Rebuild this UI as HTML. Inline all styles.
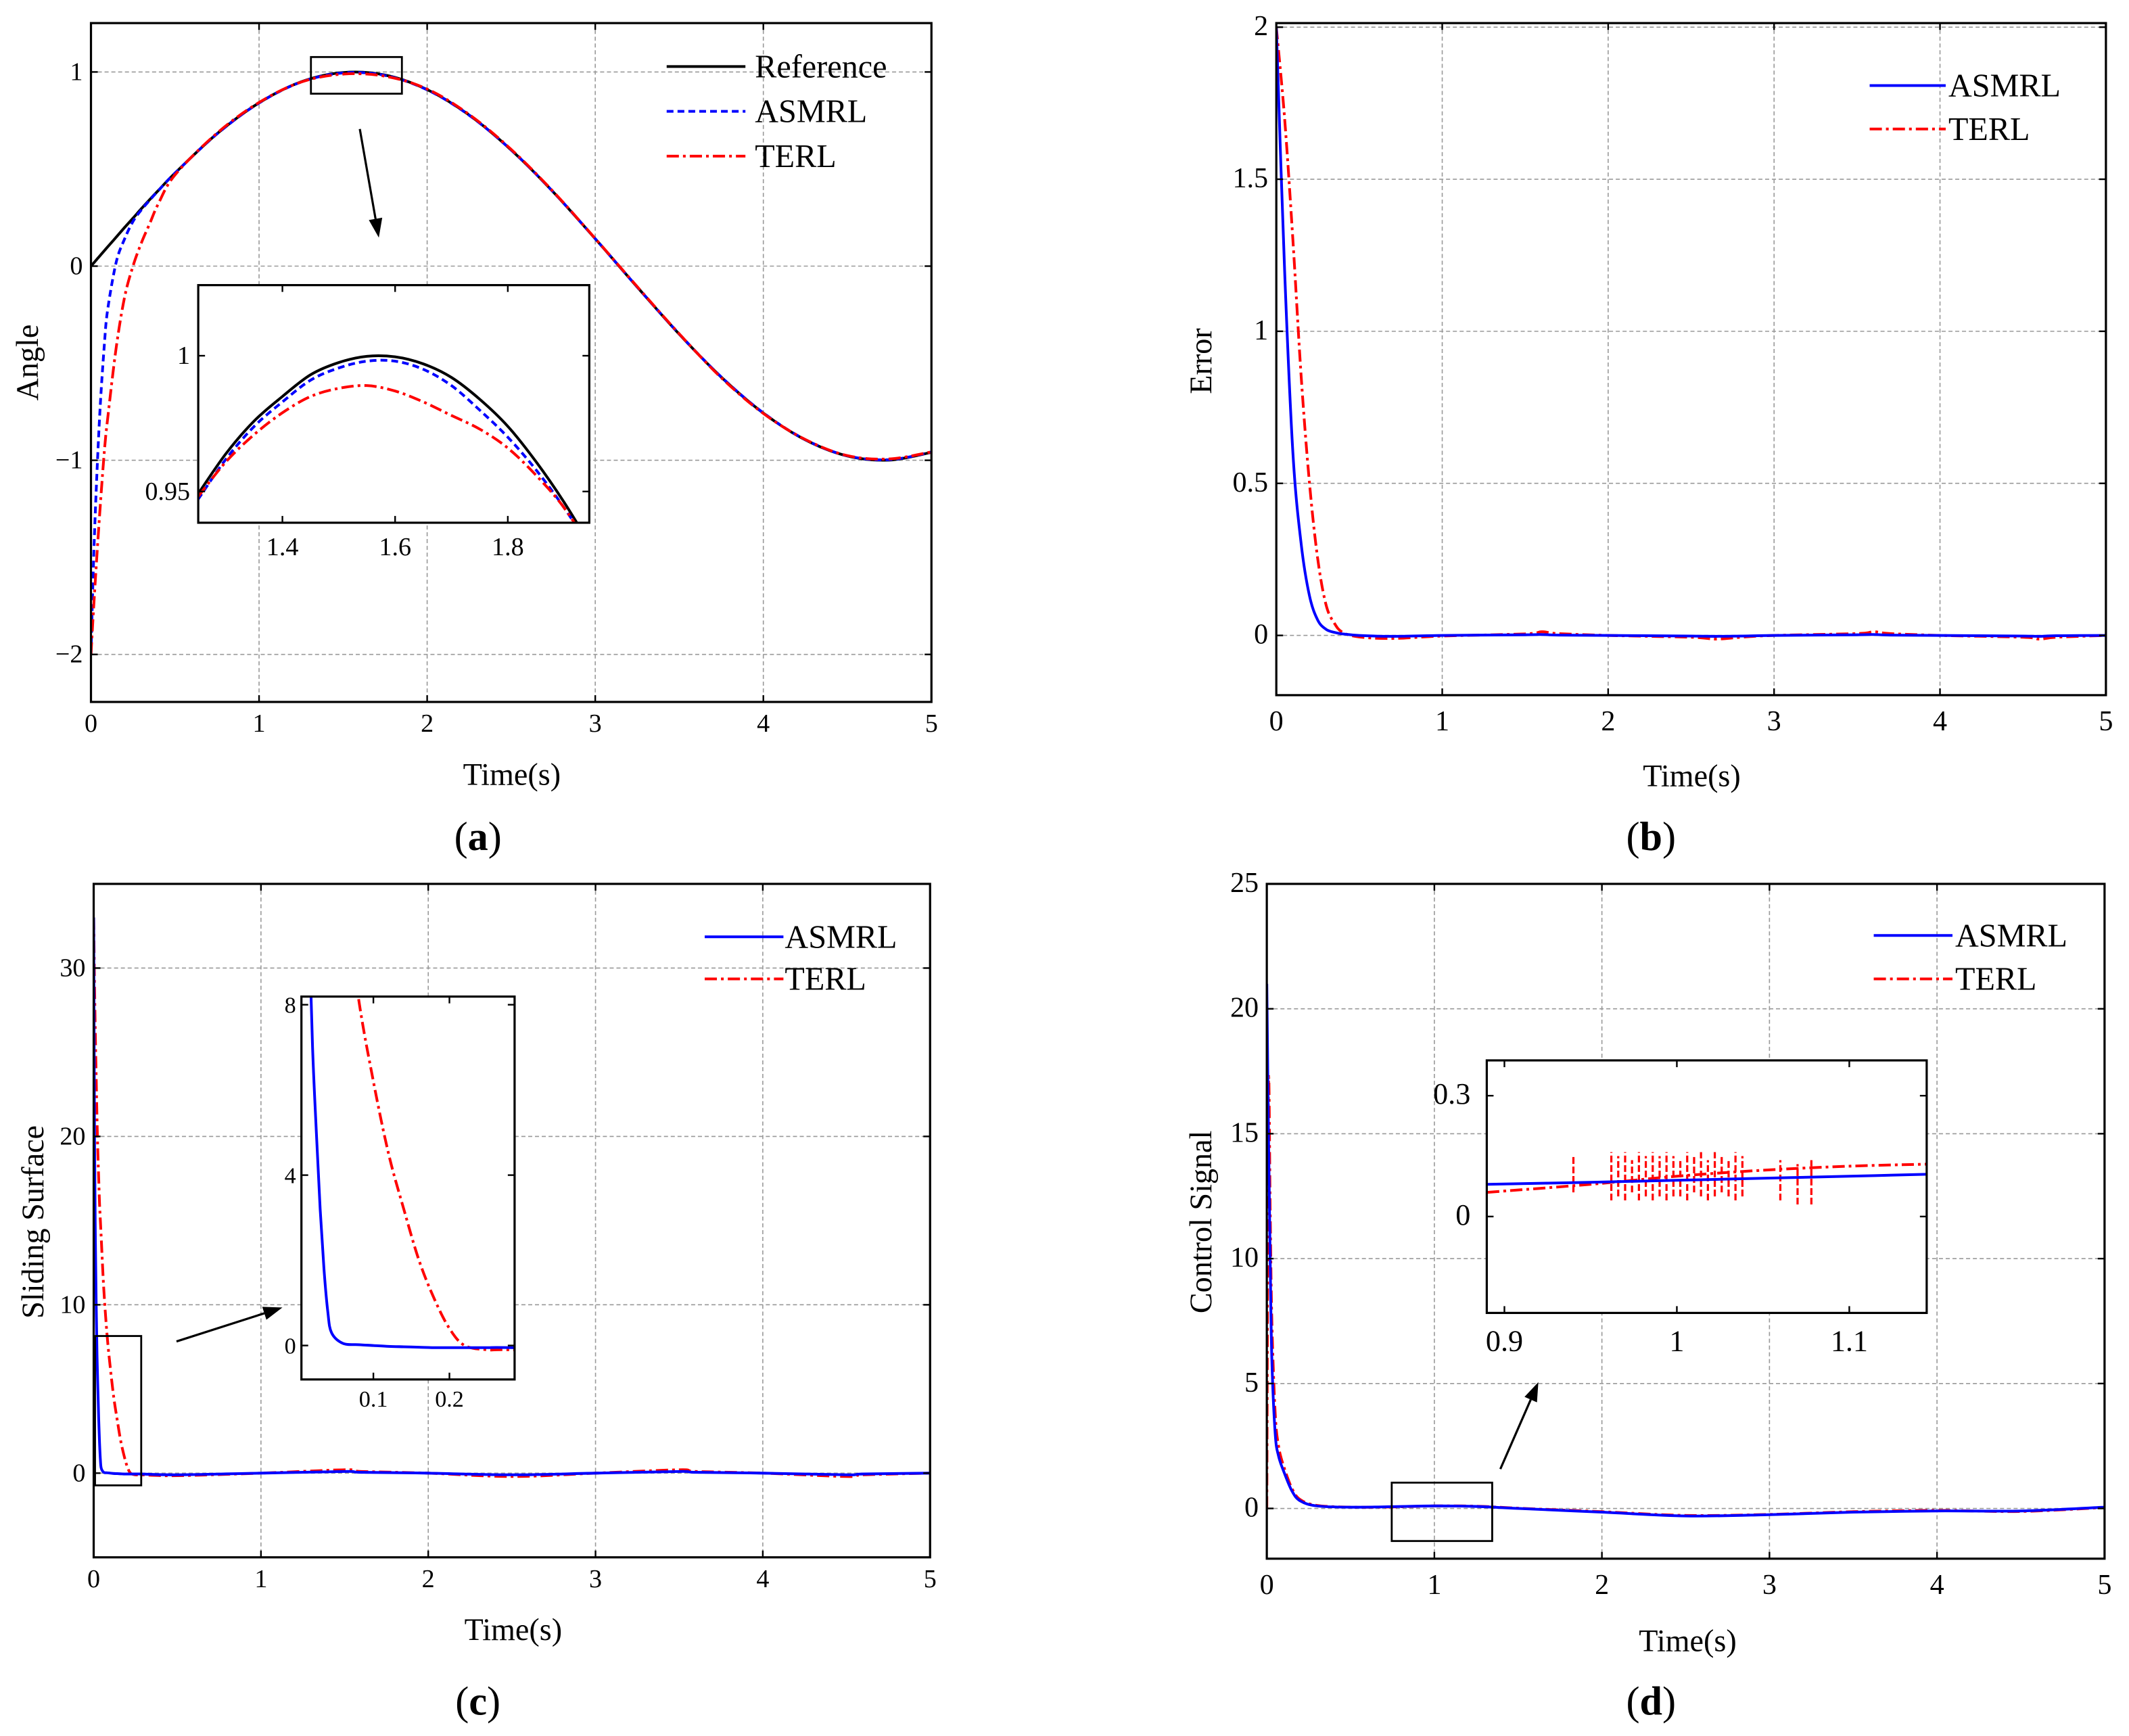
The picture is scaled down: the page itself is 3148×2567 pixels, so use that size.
<!DOCTYPE html>
<html><head><meta charset="utf-8">
<style>
html,body{margin:0;padding:0;background:#fff;}
svg{display:block;}
text{font-family:"Liberation Serif","Times New Roman",serif;fill:#000;}
</style></head>
<body>
<svg id="fig" width="3148" height="2567" viewBox="0 0 1568 1278.6" font-family="Liberation Serif, serif" xmlns="http://www.w3.org/2000/svg"></svg>
<script>
// ---------- DATA ----------
const tA = [0,0.02,0.05,0.08,0.1,0.15,0.2,0.25,0.3,0.35,0.4,0.5,0.75,1,1.25,1.5,1.75,2,2.25,2.5,2.75,3,3.25,3.5,3.75,4,4.25,4.5,4.75,5];
const refA = [0,0.02,0.05,0.08,0.1,0.149,0.199,0.247,0.296,0.343,0.389,0.479,0.682,0.841,0.949,0.997,0.984,0.909,0.778,0.598,0.382,0.141,-0.108,-0.351,-0.572,-0.757,-0.895,-0.978,-0.999,-0.959];
const asmrlA = [-2,-1.4,-0.8,-0.4,-0.22,0.02,0.14,0.23,0.29,0.34,0.388,0.479,0.681,0.84,0.948,0.995,0.982,0.908,0.777,0.598,0.382,0.141,-0.108,-0.35,-0.571,-0.756,-0.894,-0.977,-0.997,-0.958];
const terlA = [-2,-1.7,-1.3,-0.95,-0.78,-0.42,-0.16,0.0,0.12,0.22,0.32,0.47,0.685,0.843,0.948,0.989,0.978,0.912,0.781,0.601,0.384,0.142,-0.106,-0.349,-0.575,-0.759,-0.893,-0.976,-0.993,-0.957];
const tInsetA = [1.25,1.3,1.35,1.4,1.45,1.5,1.55,1.6,1.65,1.7,1.75,1.8,1.85,1.9,1.95];
const refInsetA = [0.949,0.964,0.976,0.985,0.993,0.9975,0.9998,0.9996,0.997,0.992,0.984,0.974,0.961,0.946,0.929];
const asmrlInsetA = [0.947,0.962,0.974,0.983,0.991,0.9955,0.998,0.998,0.995,0.989,0.980,0.970,0.958,0.944,0.928];
const terlInsetA = [0.948,0.961,0.971,0.979,0.985,0.988,0.989,0.987,0.983,0.978,0.973,0.966,0.956,0.944,0.928];

const tB = [0,0.05,0.1,0.15,0.2,0.25,0.3,0.35,0.4,0.5,0.7,1,1.5,1.6,1.7,2,2.5,2.65,2.8,3,3.5,3.6,3.7,4,4.5,4.6,4.7,5];
const asmrlB = [2,1.2,0.6,0.3,0.13,0.05,0.02,0.01,0.005,0,-0.003,0,0.002,0.003,0.001,0,-0.002,-0.003,-0.002,0,0.002,0.003,0.001,0,-0.002,-0.003,-0.001,0];
const terlB = [2,1.7,1.3,0.85,0.5,0.25,0.1,0.04,0.01,-0.005,-0.01,-0.002,0.005,0.012,0.006,0,-0.006,-0.012,-0.006,0,0.006,0.012,0.006,0,-0.006,-0.012,-0.006,0];

const tC = [0,0.005,0.01,0.015,0.02,0.025,0.03,0.035,0.04,0.045,0.06,0.08,0.1,0.12,0.14,0.16,0.18,0.2,0.22,0.25,0.28,0.5,1,1.5,1.6,2,2.5,3,3.5,3.6,4,4.5,4.6,5];
const asmrlC = [33,20,14,10,7,5,3.2,1.8,0.8,0.3,0.05,0.02,0,-0.02,-0.03,-0.04,-0.05,-0.05,-0.05,-0.05,-0.05,-0.1,0,0.1,0.05,0,-0.1,0,0.1,0.05,0,-0.1,-0.05,0];
const terlC = [33,29,26,23.5,21,19,17.5,16,15,14,11,8.2,6.2,4.5,3.2,2.0,1.1,0.4,0.0,-0.1,-0.1,-0.15,0,0.2,0.1,0,-0.2,0,0.2,0.1,0,-0.2,-0.1,0];

const tD = [0,0.01,0.02,0.03,0.05,0.07,0.1,0.15,0.2,0.3,0.5,0.75,1,1.25,1.5,2,2.5,3,3.5,4,4.5,5];
const asmrlD = [21,15,10,6,3,2.1,1.5,0.7,0.3,0.1,0.05,0.07,0.1,0.08,0,-0.15,-0.3,-0.25,-0.15,-0.1,-0.1,0.05];
const terlD = [0,17,12,7.5,3.8,2.5,1.7,0.8,0.35,0.12,0.05,0.06,0.1,0.09,0.01,-0.13,-0.28,-0.24,-0.13,-0.08,-0.12,0.04];
const tInsetD = [0.89,0.95,1.0,1.05,1.1,1.145];
const asmrlInsetD = [0.08,0.085,0.09,0.095,0.1,0.105];
const terlInsetD = [0.06,0.08,0.1,0.115,0.125,0.13];
const spikeTimesD = [0.94,0.962,0.966,0.97,0.974,0.978,0.982,0.986,0.99,0.994,0.998,1.002,1.006,1.01,1.014,1.018,1.022,1.026,1.03,1.034,1.038,1.06,1.07,1.078];
const spikeLowD = [0.06,0.04,0.05,0.04,0.06,0.04,0.05,0.04,0.05,0.04,0.05,0.05,0.04,0.06,0.05,0.04,0.05,0.06,0.05,0.04,0.05,0.04,0.03,0.03];
const spikeHighD = [0.15,0.16,0.15,0.16,0.14,0.16,0.15,0.16,0.15,0.16,0.15,0.14,0.16,0.15,0.16,0.14,0.16,0.15,0.14,0.16,0.15,0.14,0.13,0.14];

// ---------- HELPERS ----------
const NS = "http://www.w3.org/2000/svg";
const svg = document.getElementById('fig');
function mk(tag, attrs, parent){
  const e = document.createElementNS(NS, tag);
  for (const k in attrs) e.setAttribute(k, attrs[k]);
  (parent||svg).appendChild(e);
  return e;
}
function txt(s, x, y, size, anchor, parent, extra){
  const e = mk('text', Object.assign({x:x, y:y, 'font-size':size, 'text-anchor':anchor||'middle', 'font-family':'Liberation Serif, serif'}, extra||{}), parent);
  e.textContent = s;
  return e;
}
function scale(d0, d1, p0, p1){ return v => p0 + (v - d0) * (p1 - p0) / (d1 - d0); }
function pathD(xs, ys, sx, sy){
  const P = xs.map((t,i)=>[sx(t), sy(ys[i])]);
  let d = 'M'+P[0][0].toFixed(2)+','+P[0][1].toFixed(2);
  for (let i=0;i<P.length-1;i++){
    const p0=P[Math.max(0,i-1)], p1=P[i], p2=P[i+1], p3=P[Math.min(P.length-1,i+2)];
    // monotone-ish catmull-rom with tension
    const k = 1/6;
    let c1x=p1[0]+(p2[0]-p0[0])*k, c1y=p1[1]+(p2[1]-p0[1])*k;
    let c2x=p2[0]-(p3[0]-p1[0])*k, c2y=p2[1]-(p3[1]-p1[1])*k;
    const lo=Math.min(p1[1],p2[1]), hi=Math.max(p1[1],p2[1]);
    const slack = (hi-lo)*0.3+1;
    c1y=Math.min(Math.max(c1y,lo-slack),hi+slack); c2y=Math.min(Math.max(c2y,lo-slack),hi+slack);
    c1x=Math.min(Math.max(c1x,p1[0]),p2[0]); c2x=Math.min(Math.max(c2x,p1[0]),p2[0]);
    d += ` C${c1x.toFixed(2)},${c1y.toFixed(2)} ${c2x.toFixed(2)},${c2y.toFixed(2)} ${p2[0].toFixed(2)},${p2[1].toFixed(2)}`;
  }
  return d;
}
const STY = {
  ref:{stroke:'#000','stroke-width':2,fill:'none'},
  asmrlDot:{stroke:'#0000ff','stroke-width':2,fill:'none','stroke-dasharray':'5 3'},
  asmrl:{stroke:'#0000ff','stroke-width':2,fill:'none'},
  terl:{stroke:'#ff0000','stroke-width':2,fill:'none','stroke-dasharray':'9 3 2 3'}
};
let clipN = 0;
function clipRect(x,y,w,h){
  const id = 'clip'+(clipN++);
  const cp = mk('clipPath',{id:id});
  mk('rect',{x:x,y:y,width:w,height:h},cp);
  return 'url(#'+id+')';
}
function axesBox(g, x0, y0, x1, y1){
  mk('rect',{x:x0,y:y0,width:x1-x0,height:y1-y0,fill:'none',stroke:'#000','stroke-width':1.6},g);
}
function grid(g, xs, ys, sx, sy, x0,y0,x1,y1){
  xs.forEach(v=>{ const l = mk('line',{x1:sx(v),x2:sx(v),y1:y0,y2:y1,stroke:'#999','stroke-width':0.8,'stroke-dasharray':'3 2'},g);
      });
  ys.forEach(v=>{ const l = mk('line',{x1:x0,x2:x1,y1:sy(v),y2:sy(v),stroke:'#999','stroke-width':0.8,'stroke-dasharray':'3 2'},g);
      });
}
function ticks(g, xs, ys, sx, sy, x0,y0,x1,y1, xlab, ylab, fs, xoff, yoff){
  xs.forEach((v,i)=>{
    mk('line',{x1:sx(v),x2:sx(v),y1:y1,y2:y1-5,stroke:'#000','stroke-width':1.2},g);
    mk('line',{x1:sx(v),x2:sx(v),y1:y0,y2:y0+5,stroke:'#000','stroke-width':1.2},g);
    const t = txt(xlab[i], sx(v), y1+xoff, fs, 'middle', g);
     
  });
  ys.forEach((v,i)=>{
    mk('line',{x1:x0,x2:x0+5,y1:sy(v),y2:sy(v),stroke:'#000','stroke-width':1.2},g);
    mk('line',{x1:x1,x2:x1-5,y1:sy(v),y2:sy(v),stroke:'#000','stroke-width':1.2},g);
    const t = txt(ylab[i], x0-yoff, sy(v)+6, fs, 'end', g);
     
  });
}
function series(g, xs, ys, sx, sy, sty, name, clip){
  const p = mk('path', Object.assign({d:pathD(xs,ys,sx,sy)}, sty), g);
  if (clip) p.setAttribute('clip-path', clip);
  
  
  return p;
}
function legendEntry(g, x0, x1, y, sty, label, tx, fs){
  const e = mk('g',{},g);
  
  
  mk('line',Object.assign({x1:x0,x2:x1,y1:y,y2:y},sty),e);
  txt(label, tx, y+8, fs, 'start', e);
}
function arrow(g, xa, ya, xb, yb){
  const a = mk('g',{},g);
   
  const ang = Math.atan2(yb-ya, xb-xa), L=14, W=5;
  const bx = xb - L*Math.cos(ang), by = yb - L*Math.sin(ang);
  mk('line',{x1:xa,y1:ya,x2:bx,y2:by,stroke:'#000','stroke-width':1.6},a);
  const px = -Math.sin(ang)*W, py = Math.cos(ang)*W;
  mk('polygon',{points:`${xb},${yb} ${bx+px},${by+py} ${bx-px},${by-py}`,fill:'#000'},a);
}
function panelLabel(g, letter, x, y){
  const t = mk('text',{x:x,y:y,'font-size':30,'text-anchor':'middle','font-family':'Liberation Serif, serif'},g);
   
  t.appendChild(document.createTextNode('('));
  const b = mk('tspan',{'font-weight':'bold'},t); b.textContent = letter;
  t.appendChild(document.createTextNode(')'));
}
function axisTitles(g, xt, xx, xy, yt, yx, yy, fs){
  const a = txt(xt, xx, xy, fs, 'middle', g);
   
  const b = txt(yt, yx, yy, fs, 'middle', g, {transform:`rotate(-90 ${yx} ${yy})`});
   
}
const xTicks5 = [0,1,2,3,4,5], xLab5 = ['0','1','2','3','4','5'];

// ---------- PANEL A ----------
(function(){
  const g = mk('g',{});  
  const x0=67,x1=686,y0=17,y1=517;
  const sx = scale(0,5,x0,x1), sy = scale(1,0,53,196);
  const yT=[1,0,-1,-2], yL=['1','0','\u22121','\u22122'];
  grid(g, xTicks5, yT, sx, sy, x0,y0,x1,y1);
  const cl = clipRect(x0,y0,x1-x0,y1-y0);
  series(g,tA,refA,sx,sy,STY.ref,'reference-line',cl);
  series(g,tA,asmrlA,sx,sy,STY.asmrlDot,'asmrl-line',cl);
  series(g,tA,terlA,sx,sy,STY.terl,'terl-line',cl);
  axesBox(g,x0,y0,x1,y1);
  ticks(g,xTicks5,yT,sx,sy,x0,y0,x1,y1,xLab5,yL,19,22,6);
  axisTitles(g,'Time(s)',377,578,'Angle',28,267,23);
  legendEntry(g,491,549,49,STY.ref,'Reference',556,24);
  legendEntry(g,491,549,82,STY.asmrlDot,'ASMRL',556,24);
  legendEntry(g,491,549,115,STY.terl,'TERL',556,24);
  const zb = mk('rect',{x:229,y:42,width:67,height:27,fill:'none',stroke:'#000','stroke-width':1.4},g);
   
  arrow(g,265,95,279,175);
  const ig = mk('g',{},g);  
  const ix0=146,ix1=434,iy0=210,iy1=385;
  mk('rect',{x:ix0,y:iy0,width:ix1-ix0,height:iy1-iy0,fill:'#fff'},ig);
  const isx = scale(1.4,1.8,208,374), isy = scale(1,0.95,262,362);
  const icl = clipRect(ix0,iy0,ix1-ix0,iy1-iy0);
  series(ig,tInsetA,refInsetA,isx,isy,STY.ref,'inset-reference-line',icl);
  series(ig,tInsetA,asmrlInsetA,isx,isy,STY.asmrlDot,'inset-asmrl-line',icl);
  series(ig,tInsetA,terlInsetA,isx,isy,STY.terl,'inset-terl-line',icl);
  axesBox(ig,ix0,iy0,ix1,iy1);
  ticks(ig,[1.4,1.6,1.8],[1,0.95],isx,isy,ix0,iy0,ix1,iy1,['1.4','1.6','1.8'],['1','0.95'],19,24,6);
  panelLabel(g,'a',352,626);
})();

// ---------- PANEL B ----------
(function(){
  const g = mk('g',{});  
  const x0=940,x1=1551,y0=17,y1=512;
  const sx = scale(0,5,x0,x1), sy = scale(0,2,468,20);
  const yT=[0,0.5,1,1.5,2], yL=['0','0.5','1','1.5','2'];
  grid(g, xTicks5, yT, sx, sy, x0,y0,x1,y1);
  const cl = clipRect(x0,y0,x1-x0,y1-y0);
  series(g,tB,terlB,sx,sy,STY.terl,'terl-line',cl);
  series(g,tB,asmrlB,sx,sy,STY.asmrl,'asmrl-line',cl);
  axesBox(g,x0,y0,x1,y1);
  ticks(g,xTicks5,yT,sx,sy,x0,y0,x1,y1,xLab5,yL,21,26,6);
  axisTitles(g,'Time(s)',1246,579,'Error',892,266,23);
  legendEntry(g,1377,1433,63,STY.asmrl,'ASMRL',1435,24);
  legendEntry(g,1377,1433,95,STY.terl,'TERL',1435,24);
  panelLabel(g,'b',1216,626);
})();

// ---------- PANEL C ----------
(function(){
  const g = mk('g',{});  
  const x0=69,x1=685,y0=651,y1=1147;
  const sx = scale(0,5,x0,x1), sy = scale(0,30,1085,713);
  const yT=[0,10,20,30], yL=['0','10','20','30'];
  grid(g, xTicks5, yT, sx, sy, x0,y0,x1,y1);
  const cl = clipRect(x0,y0,x1-x0,y1-y0);
  series(g,tC,terlC,sx,sy,STY.terl,'terl-line',cl);
  series(g,tC,asmrlC,sx,sy,STY.asmrl,'asmrl-line',cl);
  axesBox(g,x0,y0,x1,y1);
  ticks(g,xTicks5,yT,sx,sy,x0,y0,x1,y1,xLab5,yL,19,22,6);
  axisTitles(g,'Time(s)',378,1208,'Sliding Surface',32,900,23);
  legendEntry(g,519,577,690,STY.asmrl,'ASMRL',578,24);
  legendEntry(g,519,577,721,STY.terl,'TERL',578,24);
  const zb = mk('rect',{x:70,y:984,width:34,height:110,fill:'none',stroke:'#000','stroke-width':1.4},g);
   
  arrow(g,130,988,208,963);
  const ig = mk('g',{},g);  
  const ix0=222,ix1=379,iy0=734,iy1=1016;
  mk('rect',{x:ix0,y:iy0,width:ix1-ix0,height:iy1-iy0,fill:'#fff'},ig);
  const isx = scale(0.1,0.2,275,331), isy = scale(0,8,991,740);
  const icl = clipRect(ix0,iy0,ix1-ix0,iy1-iy0);
  series(ig,tC,terlC,isx,isy,STY.terl,'inset-terl-line',icl);
  series(ig,tC,asmrlC,isx,isy,STY.asmrl,'inset-asmrl-line',icl);
  axesBox(ig,ix0,iy0,ix1,iy1);
  ticks(ig,[0.1,0.2],[0,4,8],isx,isy,ix0,iy0,ix1,iy1,['0.1','0.2'],['0','4','8'],17,20,4);
  panelLabel(g,'c',352,1263);
})();

// ---------- PANEL D ----------
(function(){
  const g = mk('g',{});  
  const x0=933,x1=1550,y0=651,y1=1148;
  const sx = scale(0,5,x0,x1), sy = scale(0,25,1111,651);
  const yT=[0,5,10,15,20,25], yL=['0','5','10','15','20','25'];
  grid(g, xTicks5, yT, sx, sy, x0,y0,x1,y1);
  const cl = clipRect(x0,y0,x1-x0,y1-y0);
  series(g,tD,terlD,sx,sy,STY.terl,'terl-line',cl);
  series(g,tD,asmrlD,sx,sy,STY.asmrl,'asmrl-line',cl);
  axesBox(g,x0,y0,x1,y1);
  ticks(g,xTicks5,yT,sx,sy,x0,y0,x1,y1,xLab5,yL,21,26,6);
  axisTitles(g,'Time(s)',1243,1216,'Control Signal',892,900,23);
  legendEntry(g,1380,1438,689,STY.asmrl,'ASMRL',1440,24);
  legendEntry(g,1380,1438,721,STY.terl,'TERL',1440,24);
  const zb = mk('rect',{x:1025,y:1092,width:74,height:43,fill:'none',stroke:'#000','stroke-width':1.4},g);
   
  arrow(g,1105,1082,1133,1018);
  const ig = mk('g',{},g);  
  const ix0=1095,ix1=1419,iy0=781,iy1=967;
  mk('rect',{x:ix0,y:iy0,width:ix1-ix0,height:iy1-iy0,fill:'#fff'},ig);
  const isx = scale(0.9,1.1,1108,1362), isy = scale(0,0.3,896,807);
  const icl = clipRect(ix0,iy0,ix1-ix0,iy1-iy0);
  series(ig,tInsetD,terlInsetD,isx,isy,STY.terl,'inset-terl-line',icl);
  spikeTimesD.forEach((t,i)=>{
    const l = mk('line',{x1:isx(t),x2:isx(t),y1:isy(spikeLowD[i]),y2:isy(spikeHighD[i]),stroke:'#ff0000','stroke-width':1.6,'stroke-dasharray':'5 2'},ig);
     
  });
  series(ig,tInsetD,asmrlInsetD,isx,isy,STY.asmrl,'inset-asmrl-line',icl);
  axesBox(ig,ix0,iy0,ix1,iy1);
  ticks(ig,[0.9,1,1.1],[0,0.3],isx,isy,ix0,iy0,ix1,iy1,['0.9','1','1.1'],['0','0.3'],22,28,12);
  panelLabel(g,'d',1216,1263);
})();
</script>
</body></html>
